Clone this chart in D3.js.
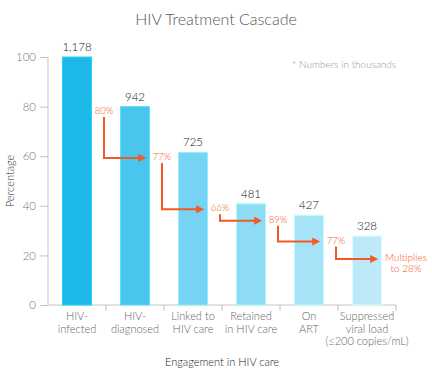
<!DOCTYPE html>
<html>
<head>
<meta charset="utf-8">
<script src="https://cdn.jsdelivr.net/npm/d3@7"></script>
<style>
  body { margin: 0; background: #fff; }
  text { font-family: Lato, "Open Sans", sans-serif; font-weight: 300; }
</style>
</head>
<body>
<div id="chart"></div>
<script>
      // Chart data
      const categories = [
          ["HIV-", "infected"],
          ["HIV-", "diagnosed"],
          ["Linked to", "HIV care"],
          ["Retained", "in HIV care"],
          ["On", "ART"],
          ["Suppressed", "viral load", "(≤200 copies/mL)"]
      ];
      const counts = [1178, 942, 725, 481, 427, 328];
      const percentages = [100, 80, 61.5, 40.8, 36.2, 27.8];
      const stepLabels = ["80%", "77%", "66%", "89%", "77%", ["Multiplies", "to 28%"]];
      const yTicks = [0, 20, 40, 60, 80, 100];
      const barColors = ["#1cb8e8", "#4ac5ee", "#77d3f3", "#8edbf4", "#a6e3f7", "#bde9f9"];

      const width = 432;
      const height = 378;
      const margin = { top: 57, right: 36, bottom: 73, left: 48 };
      const orange = "#f15a24";

      const svg = d3.select("#chart").append("svg")
          .attr("width", width)
          .attr("height", height);

      const xScale = d3.scaleBand()
          .domain(d3.range(categories.length))
          .range([margin.left, width - margin.right])
          .paddingInner(0.5)
          .paddingOuter(0.25);

      const yScale = d3.scaleLinear()
          .domain([0, 100])
          .range([height - margin.bottom, margin.top]);

      const step = xScale.step();
      const boundary = i => margin.left + step * (i + 1);

      // Title
      svg.append("text")
          .attr("x", 216)
          .attr("y", 25)
          .attr("text-anchor", "middle")
          .attr("font-size", 16)
          .attr("fill", "#555")
          .text("HIV Treatment Cascade");

      svg.append("text")
          .attr("x", width - margin.right)
          .attr("y", 68)
          .attr("text-anchor", "end")
          .attr("font-size", 10)
          .attr("fill", "#999")
          .text("* Numbers in thousands");

      // Y axis
      const yAxis = d3.axisLeft(yScale).tickValues(yTicks).tickSize(8).tickPadding(4);
      const gy = svg.append("g")
          .attr("transform", `translate(${margin.left},0)`)
          .call(yAxis);
      gy.select(".domain").attr("stroke", "#c4c4c4").attr("d", `M0,${yScale(100)}V${yScale(0)}`);
      gy.selectAll(".tick line").attr("stroke", "#c4c4c4");
      gy.selectAll(".tick text")
          .attr("font-size", 11.5)
          .attr("fill", "#777")
          .style("font-family", "Lato, sans-serif")
          .style("font-weight", 300);

      svg.append("text")
          .attr("transform", `translate(14, ${yScale(50)}) rotate(-90)`)
          .attr("text-anchor", "middle")
          .attr("font-size", 11)
          .attr("fill", "#333")
          .text("Percentage");

      // X axis line + boundary ticks
      svg.append("line")
          .attr("x1", margin.left)
          .attr("x2", width - margin.right)
          .attr("y1", yScale(0))
          .attr("y2", yScale(0))
          .attr("stroke", "#c4c4c4");

      svg.selectAll(".xtick")
          .data(d3.range(categories.length))
          .enter()
          .append("line")
          .attr("class", "xtick")
          .attr("x1", d => boundary(d))
          .attr("x2", d => boundary(d))
          .attr("y1", yScale(0))
          .attr("y2", yScale(0) + 6)
          .attr("stroke", "#c4c4c4");

      // Bars
      svg.selectAll("rect.bar")
          .data(percentages)
          .enter()
          .append("rect")
          .attr("class", "bar")
          .attr("x", (d, i) => xScale(i))
          .attr("y", d => yScale(d))
          .attr("width", xScale.bandwidth())
          .attr("height", d => yScale(0) - yScale(d))
          .attr("fill", (d, i) => barColors[i])
          .attr("stroke", (d, i) => d3.color(barColors[i]).brighter(0.4))
          .attr("stroke-width", 1);

      // Count labels
      svg.selectAll("text.count")
          .data(counts)
          .enter()
          .append("text")
          .attr("class", "count")
          .attr("x", (d, i) => xScale(i) + xScale.bandwidth() / 2)
          .attr("y", (d, i) => yScale(percentages[i]) - 6)
          .attr("text-anchor", "middle")
          .attr("font-size", 11.5)
          .attr("fill", "#111")
          .text(d => d3.format(",")(d));

      // Category labels
      const cat = svg.selectAll("text.cat")
          .data(categories)
          .enter()
          .append("text")
          .attr("class", "cat")
          .attr("x", (d, i) => xScale(i) + xScale.bandwidth() / 2)
          .attr("y", yScale(0) + 15)
          .attr("text-anchor", "middle")
          .attr("font-size", 11)
          .attr("fill", "#666");
      cat.selectAll("tspan")
          .data(d => d)
          .enter()
          .append("tspan")
          .attr("x", function () { return d3.select(this.parentNode).attr("x"); })
          .attr("dy", (d, i) => i === 0 ? 0 : 12.5)
          .text(d => d);

      svg.append("text")
          .attr("x", 222)
          .attr("y", 366)
          .attr("text-anchor", "middle")
          .attr("font-size", 11)
          .attr("fill", "#222")
          .text("Engagement in HIV care");

      // Step annotations (label sits at the height of the next bar's top)
      const labelY = i => i < percentages.length - 1
          ? yScale(percentages[i + 1]) + 4.5
          : yScale(percentages[i]) + 22;
      const labelX = i => i < percentages.length - 1 ? boundary(i) - 2 : boundary(i) + 10;

      const defs = svg.append("defs");
      defs.append("marker")
          .attr("id", "head")
          .attr("viewBox", "0 0 10 10")
          .attr("refX", 1)
          .attr("refY", 5)
          .attr("markerWidth", 4.5)
          .attr("markerHeight", 4)
          .attr("orient", "auto")
          .attr("markerUnits", "strokeWidth")
          .append("path")
          .attr("d", "M0,0L10,5L0,10Z")
          .attr("fill", orange);

      stepLabels.forEach((lab, i) => {
          const t = svg.append("text")
              .attr("x", labelX(i))
              .attr("y", labelY(i) + 3)
              .attr("text-anchor", "middle")
              .attr("font-size", i === stepLabels.length - 1 ? 10 : 9.5)
              .attr("fill", orange);
          if (Array.isArray(lab)) {
              lab.forEach((s, j) => t.append("tspan")
                  .attr("x", labelX(i))
                  .attr("dy", j === 0 ? 0 : 11)
                  .text(s));
          } else {
              t.text(lab);
          }

          if (i < stepLabels.length - 1) {
              const x0 = labelX(i);
              const y0 = labelY(i) + 6;
              const y1 = labelY(i + 1) + 1;
              const endX = i + 1 === stepLabels.length - 1 ? labelX(i + 1) - 27 : labelX(i + 1) - 15;
              svg.append("path")
                  .attr("d", `M${x0},${y0}V${y1}H${endX - 8}`)
                  .attr("fill", "none")
                  .attr("stroke", orange)
                  .attr("stroke-width", 2)
                  .attr("marker-end", "url(#head)");
          }
      });
</script>
</body>
</html>
